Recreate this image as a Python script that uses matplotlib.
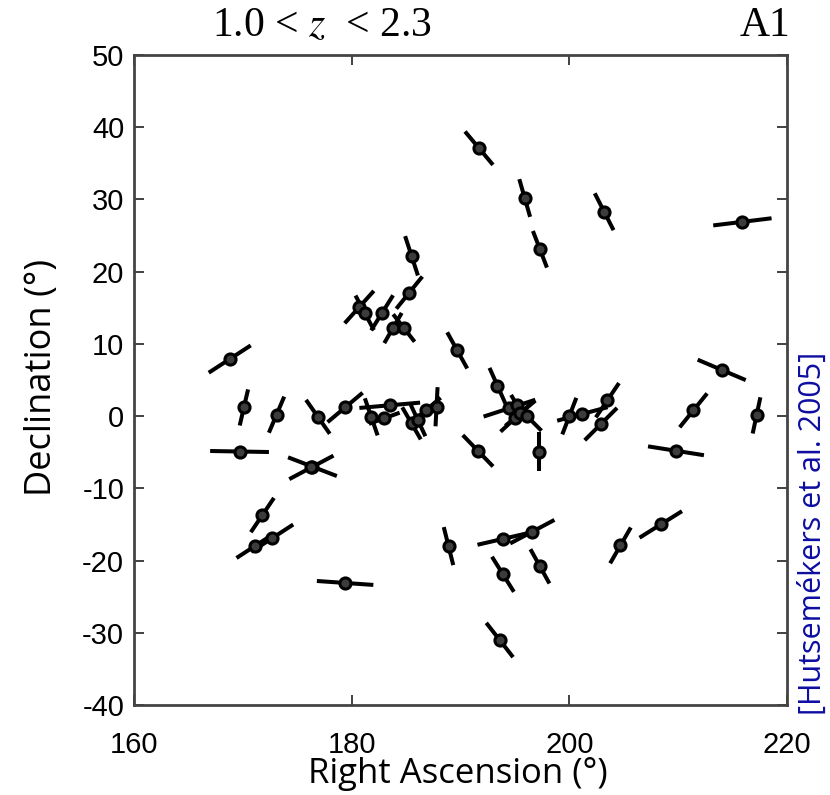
import numpy as np
import matplotlib.pyplot as plt

plt.rcParams['axes.unicode_minus'] = False

# quasar positions (deg), polarization angle (deg from north, toward east on plot) and vector half length
ra = [191.7, 195.9, 197.3, 203.2, 215.9, 214.0, 217.2, 211.4, 209.8, 208.4,
      204.7, 203.5, 202.9, 200.0, 201.2, 193.4, 194.5, 195.2, 195.0, 195.5,
      196.1, 197.2, 191.6, 193.9, 196.6, 193.9, 197.3, 193.6, 179.4, 185.5,
      185.3, 180.7, 181.2, 182.8, 183.8, 184.8, 168.8, 189.7, 170.1, 173.1,
      176.9, 179.4, 169.7, 176.4, 176.3, 171.8, 171.1, 172.7, 188.9, 181.8,
      183.5, 183.0, 185.5, 186.1, 186.8, 187.8]
dec = [37.1, 30.2, 23.1, 28.3, 26.9, 6.4, 0.1, 0.8, -4.8, -15.0,
       -17.9, 2.2, -1.1, 0.0, 0.3, 4.2, 1.1, 1.5, -0.3, 0.4,
       0.0, -4.9, -4.8, -17.0, -16.0, -21.9, -20.8, -31.0, -23.1, 22.2,
       17.1, 15.1, 14.3, 14.3, 12.2, 12.2, 7.9, 9.1, 1.2, 0.2,
       -0.1, 1.2, -4.9, -7.0, -7.1, -13.7, -18.0, -16.9, -18.0, -0.1,
       1.5, -0.3, -1.0, -0.6, 0.8, 1.3]
angle = [-40, -16, -21, -27, 83, -67, 12, 39, -81, 58,
         30, 34, 45, 21, 75, -24, 72, -30, 47, 50,
         -45, 0, -44, 77, 62, -32, -29, -38, -86, -18,
         39, 42, -28, 32, 30, -38, 57, -29, 13, 23,
         -35, 50, -89, -69, 62, 34, 57, 57, -14, -19,
         85, 70, -30, -25, 50, 3]
plen = [2.0, 1.8, 1.8, 1.9, 2.7, 2.4, 1.7, 2.0, 2.6, 2.3,
        1.9, 1.9, 2.1, 1.8, 2.4, 1.8, 2.5, 1.1, 1.8, 1.8,
        1.9, 1.8, 2.0, 2.4, 2.3, 1.9, 1.8, 2.0, 2.6, 1.9,
        1.9, 2.0, 1.8, 1.9, 1.6, 1.6, 2.3, 1.9, 1.7, 1.8,
        1.9, 2.1, 2.7, 2.4, 2.3, 1.9, 2.0, 2.3, 1.8, 1.8,
        2.8, 1.5, 1.7, 1.6, 1.8, 1.8]

xticks = [160, 180, 200, 220]
yticks = [-40, -30, -20, -10, 0, 10, 20, 30, 40, 50]

fig = plt.figure(figsize=(8.3, 7.95), dpi=100)
ax = fig.add_axes([0.1614, 0.1132, 0.7868, 0.8176])
ax.set_xlim(160, 220)
ax.set_ylim(-40, 50)

# aspect correction so the vectors keep their angle on screen
bb = ax.get_window_extent()
k = (bb.width / 60.0) / (bb.height / 90.0)

for x, y, a, L in zip(ra, dec, angle, plen):
    t = np.radians(a)
    dx = L * np.sin(t)
    dy = L * np.cos(t) * k
    ax.plot([x - dx, x + dx], [y - dy, y + dy], color='black', lw=2.9,
            solid_capstyle='butt', zorder=2)
ax.plot(ra, dec, 'o', ms=8, mfc='#3c3c3c', mec='black', mew=2.2, zorder=3)

ax.set_xticks(xticks)
ax.set_yticks(yticks)
ax.tick_params(direction='in', length=7, width=1.3, top=True, right=True,
               labelsize=21, colors='#333333', labelcolor='black')
ax.tick_params(axis='x', pad=19)
ax.tick_params(axis='y', pad=7)
for lab in ax.get_xticklabels() + ax.get_yticklabels():
    lab.set_family('Liberation Sans')
for s in ax.spines.values():
    s.set_linewidth(2.0)
    s.set_color('#444444')

fig.text(0.551, 0.026, 'Right Ascension (°)', fontsize=25, family='Open Sans',
         ha='center', va='center')
fig.text(0.051, 0.525, 'Declination (°)', fontsize=26, family='Open Sans',
         ha='center', va='center', rotation=90)

fig.text(0.388, 0.967, r'1.0 < $z$  < 2.3', fontsize=30, family='Liberation Serif',
         ha='center', va='center', math_fontfamily='stix')
fig.text(0.922, 0.967, 'A1', fontsize=30, family='Liberation Serif',
         ha='center', va='center')
fig.text(0.979, 0.329, '[Hutsemékers et al. 2005]', fontsize=22, family='Open Sans',
         color='#0d0da0', rotation=90, ha='center', va='center')

fig.savefig('out.png', dpi=100)
